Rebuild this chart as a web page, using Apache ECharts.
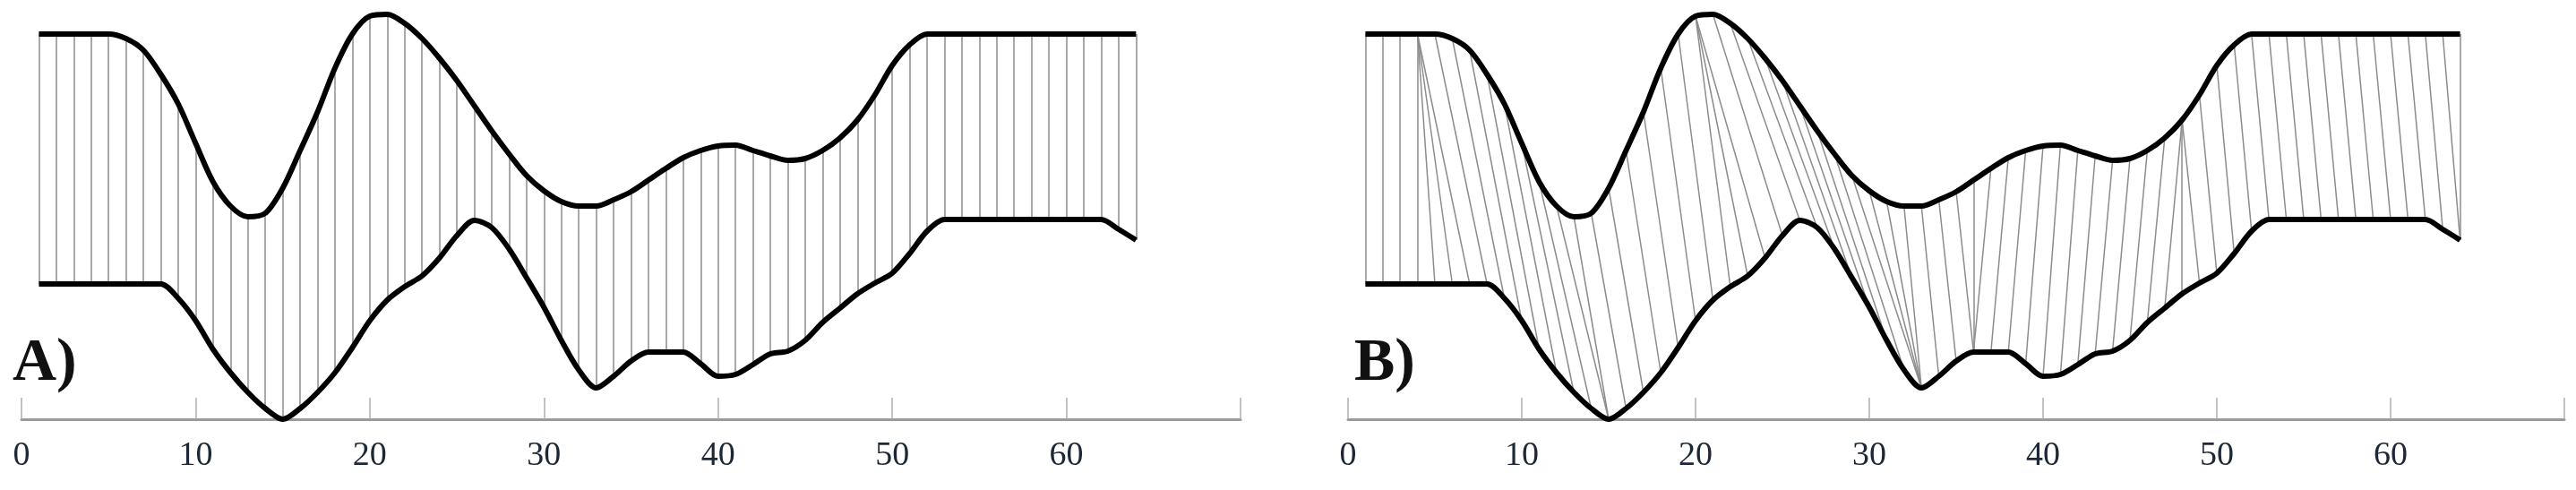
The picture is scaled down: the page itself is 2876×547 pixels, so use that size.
<!DOCTYPE html>
<html>
<head>
<meta charset="utf-8">
<script src="https://cdn.jsdelivr.net/npm/echarts@6/dist/echarts.min.js"></script>
<style>html,body{margin:0;padding:0;background:#fff}#chart{width:2876px;height:547px}</style>
</head>
<body>
<div id="chart"></div>
<script>
// sample positions 1..64
var xs = [];
for (var k = 1; k <= 64; k++) xs.push(k);
var upper = [430,430,430,430,430,425,412,385,352,308,265,238,226,230,258,300,343,392,430,450,
	452,442,425,403,378,350,322,296,272,255,243,238,238,245,254,267,280,292,300,305,
	306,300,294,289,291,300,314,334,362,395,418,430,430,430,430,430,430,430,430,430,
	430,430,430,430];
var lower = [151,151,151,151,151,151,151,151,135,110,78,52,30,12,0,12,30,52,80,110,
	133,148,160,180,205,222,214,190,158,125,88,55,35,48,65,75,75,75,62,48,
	50,61,73,76,88,108,124,140,152,163,185,210,223,223,223,223,223,223,223,223,
	223,223,212,200];
// warping path for panel B: [upper index, lower index]
var path = [[1,1],[2,2],[3,3],[4,4],[4,5],[4,6],[4,7],[5,8],[6,9],[7,10],[8,11],[9,12],[10,13],[11,14],
	[12,15],[13,15],[14,16],[15,17],[16,18],[17,19],[18,20],[19,21],[20,22],[20,23],[20,24],[21,25],
	[22,26],[23,27],[24,28],[25,29],[26,30],[27,31],[28,32],[29,33],[30,33],[31,33],[32,33],[33,34],
	[34,35],[35,36],[36,36],[37,36],[38,37],[39,38],[40,39],[41,40],[42,41],[43,42],[44,43],[45,44],
	[46,45],[47,46],[48,47],[48,48],[48,49],[49,50],[50,51],[51,52],[52,53],[53,54],[54,55],[55,56],
	[56,57],[57,58],[58,59],[59,60],[60,61],[61,62],[62,63],[63,64],[64,64]];
var tickLabels = ['0','10','20','30','40','50','60'];

var chart = echarts.init(document.getElementById('chart'));
var upperPts = xs.map(function (x, i) { return [x, upper[i]]; });
var lowerPts = xs.map(function (x, i) { return [x, lower[i]]; });
var straight = xs.map(function (x, i) { return { coords: [[x, upper[i]], [x, lower[i]]] }; });
var warped = path.map(function (p) {
	return { coords: [[p[0], upper[p[0] - 1]], [p[1], lower[p[1] - 1]]] };
});

function xAx(idx) {
	return {
		type: 'value', gridIndex: idx, min: 0, max: 70, interval: 10,
		axisLine: { lineStyle: { color: '#9a9a9a', width: 3 } },
		axisTick: { inside: true, length: 24, lineStyle: { color: '#b0b0b0', width: 1.5 } },
		axisLabel: {
			margin: 22, fontSize: 38, color: '#1c2836', fontFamily: 'Liberation Sans Narrow',
			formatter: function (v) { return v <= 60 ? tickLabels[v / 10] : ''; }
		},
		splitLine: { show: false }
	};
}
function yAx(idx) {
	return { type: 'value', gridIndex: idx, min: 0, max: 468, show: false };
}
function curve(idx, data) {
	return {
		type: 'line', xAxisIndex: idx, yAxisIndex: idx, data: data, symbol: 'none',
		smooth: 0.3, lineStyle: { color: '#000', width: 6 }, z: 3
	};
}
function links(idx, data) {
	return {
		type: 'lines', coordinateSystem: 'cartesian2d', xAxisIndex: idx, yAxisIndex: idx,
		data: data, lineStyle: { color: '#8c8c8c', width: 1.5, opacity: 1 }, z: 2
	};
}

chart.setOption({
	animation: false,
	grid: [
		{ left: 24, width: 1361, top: 0, bottom: 79 },
		{ left: 1505, width: 1358, top: 0, bottom: 79 }
	],
	xAxis: [xAx(0), xAx(1)],
	yAxis: [yAx(0), yAx(1)],
	series: [
		links(0, straight), curve(0, upperPts), curve(0, lowerPts),
		links(1, warped), curve(1, upperPts), curve(1, lowerPts)
	],
	graphic: [
		{ type: 'text', left: 14, top: 372, style: { text: 'A)', font: 'bold 68px "Liberation Serif"', fill: '#111' } },
		{ type: 'text', left: 1512, top: 372, style: { text: 'B)', font: 'bold 68px "Liberation Serif"', fill: '#111' } }
	]
});
</script>
</body>
</html>
